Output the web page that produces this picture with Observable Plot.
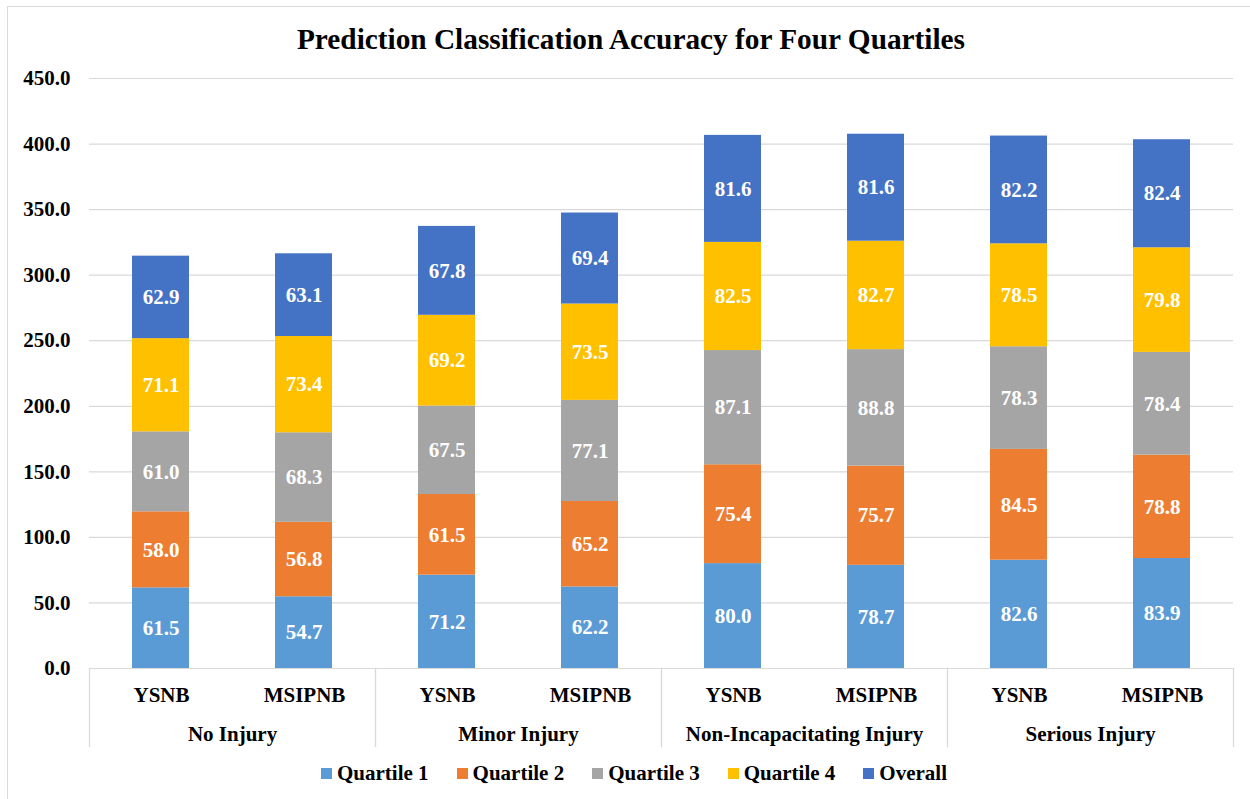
<!DOCTYPE html>
<html><head><meta charset="utf-8">
<script src="https://cdn.jsdelivr.net/npm/d3@7"></script>
<script src="https://cdn.jsdelivr.net/npm/@observablehq/plot@0.6"></script>
<style>
body{margin:0;background:#fff;}
#wrap{position:relative;width:1250px;height:799px;overflow:hidden;font-family:"Liberation Serif","Times New Roman",serif;font-weight:bold;color:#000;}
#border{position:absolute;left:7px;top:6px;width:1300px;height:900px;border-left:1px solid #d9d9d9;border-top:1px solid #d9d9d9;}
#title{position:absolute;top:25px;left:0;width:1262px;text-align:center;font-size:29.3px;line-height:28px;}
#main{position:absolute;left:0;top:60px;}
#sub{position:absolute;left:0;top:668px;}
#legend{position:absolute;top:762px;left:0;width:1268px;display:flex;justify-content:center;font-size:21px;line-height:22px;}
#legend .item{display:flex;align-items:center;margin:0 14px;}
#legend .sw{width:11px;height:11px;margin-right:5px;}
svg{overflow:visible;}
</style></head>
<body><div id="wrap"><div id="border"></div>
<div id="title">Prediction Classification Accuracy for Four Quartiles</div>
<div id="main"></div><div id="sub"></div><div id="legend"></div></div>
<script>
const categories = ["No Injury", "Minor Injury", "Non-Incapacitating Injury", "Serious Injury"];
const models = ["YSNB", "MSIPNB"];
const series = ["Quartile 1", "Quartile 2", "Quartile 3", "Quartile 4", "Overall"];
const colors = ["#5B9BD5", "#ED7D31", "#A5A5A5", "#FFC000", "#4472C4"];
const yTicks = [0, 50, 100, 150, 200, 250, 300, 350, 400, 450];
// values per bar (category, model) in series order
const noInjuryYSNB = [61.5, 58.0, 61.0, 71.1, 62.9];
const noInjuryMSIPNB = [54.7, 56.8, 68.3, 73.4, 63.1];
const minorYSNB = [71.2, 61.5, 67.5, 69.2, 67.8];
const minorMSIPNB = [62.2, 65.2, 77.1, 73.5, 69.4];
const nonIncapYSNB = [80.0, 75.4, 87.1, 82.5, 81.6];
const nonIncapMSIPNB = [78.7, 75.7, 88.8, 82.7, 81.6];
const seriousYSNB = [82.6, 84.5, 78.3, 78.5, 82.2];
const seriousMSIPNB = [83.9, 78.8, 78.4, 79.8, 82.4];

const barValues = [
  [noInjuryYSNB, noInjuryMSIPNB],
  [minorYSNB, minorMSIPNB],
  [nonIncapYSNB, nonIncapMSIPNB],
  [seriousYSNB, seriousMSIPNB]
];
const rows = [];
categories.forEach((cat, ci) => models.forEach((model, mi) =>
  series.forEach((s, si) => rows.push({cat, model, series: s, value: barValues[ci][mi][si]}))));
const labelRows = [];
categories.forEach(cat => models.forEach(model => labelRows.push({cat, model})));

const font = '"Liberation Serif", "Times New Roman", serif';
const W = 1250, ML = 88, MR = 16;
const fxOpt = {domain: categories, padding: 0, axis: null};
const xOpt = {domain: models, paddingInner: 0.6, paddingOuter: 0.3, axis: null};
const svgStyle = {fontFamily: font, fontWeight: "bold", fontSize: "21px", color: "#000", background: "transparent", overflow: "visible"};

const main = Plot.plot({
  width: W, height: 608,
  marginTop: 18, marginBottom: 0, marginLeft: ML, marginRight: MR,
  style: svgStyle,
  fx: fxOpt, x: xOpt,
  y: {domain: [0, 450], ticks: yTicks, axis: null, label: null},
  color: {domain: series, range: colors},
  marks: [
    Plot.gridY(yTicks, {stroke: "#d9d9d9", strokeOpacity: 1, strokeWidth: 1.2}),
    Plot.barY(rows, {fx: "cat", x: "model", y: "value", fill: "series"}),
    Plot.text(rows, Plot.stackY({fx: "cat", x: "model", y: "value", z: "series",
      text: d => d.value.toFixed(1), fill: "white", fontSize: 21, fontWeight: "bold", fontFamily: font})),
    Plot.axisY(yTicks, {anchor: "left", label: null, tickSize: 0, tickPadding: 19, tickFormat: d3.format(".1f"),
      fontSize: 21, fontWeight: "bold", fontFamily: font, fill: "#000"}),
    Plot.ruleY([0], {stroke: "#d9d9d9", strokeWidth: 1.2})
  ]
});
document.getElementById("main").appendChild(main);

const sub = Plot.plot({
  width: W, height: 78,
  marginTop: 0, marginBottom: 0, marginLeft: ML, marginRight: MR,
  style: svgStyle,
  fx: fxOpt, x: xOpt, y: {axis: null},
  marks: [
    Plot.frame({anchor: "left", stroke: "#d9d9d9", strokeWidth: 1.2}),
    Plot.frame({anchor: "right", stroke: "#d9d9d9", strokeWidth: 1.2}),
    Plot.text(labelRows, {fx: "cat", x: "model", text: "model", frameAnchor: "top", lineAnchor: "middle", dy: 27,
      fontSize: 21, fontWeight: "bold", fontFamily: font, fill: "#000"}),
    Plot.text(categories, {fx: d => d, text: d => d, frameAnchor: "top", lineAnchor: "middle", dy: 66,
      fontSize: 21, fontWeight: "bold", fontFamily: font, fill: "#000"})
  ]
});
document.getElementById("sub").appendChild(sub);

const legend = document.getElementById("legend");
series.forEach((s, i) => {
  const it = document.createElement("div"); it.className = "item";
  const sw = document.createElement("div"); sw.className = "sw"; sw.style.background = colors[i];
  const tx = document.createElement("span"); tx.textContent = s;
  it.appendChild(sw); it.appendChild(tx); legend.appendChild(it);
});
</script></body></html>
